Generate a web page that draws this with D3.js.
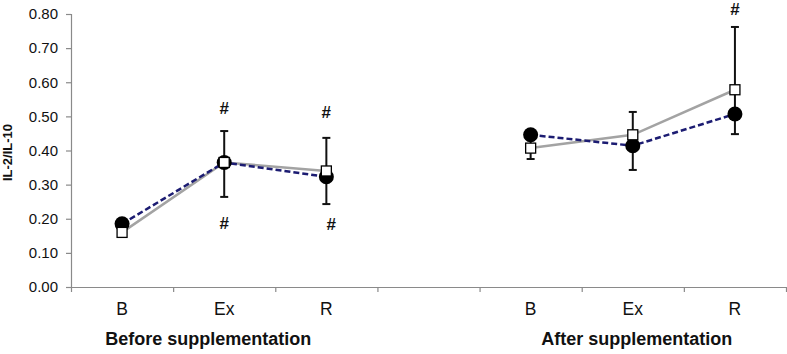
<!DOCTYPE html>
<html>
<head>
<meta charset="utf-8">
<script src="https://cdn.jsdelivr.net/npm/d3@7"></script>
<style>
  body { margin: 0; background: #fff; }
  svg { display: block; font-family: "Liberation Sans", Arial, sans-serif; }
</style>
</head>
<body>
<svg class="il2" width="787" height="354"></svg>
<script>
// categories, each sits in one slot of 7 (slot 3 is the gap)
const labels = ['B', 'Ex', 'R', 'B', 'Ex', 'R']
const slots = [0, 1, 2, 4, 5, 6]
const groups = ['Before supplementation', 'After supplementation']
const groupOf = [0, 0, 0, 1, 1, 1]

// open squares, grey solid line
const squares = [0.160, 0.365, 0.340, 0.407, 0.446, 0.578]
// filled circles, navy dashed line
const circles = [0.185, 0.365, 0.323, 0.446, 0.414, 0.507]
// error bars
const errHigh = [null, 0.457, 0.437, 0.430, 0.513, 0.762]
const errLow = [null, 0.264, 0.243, 0.375, 0.343, 0.448]

// "#" marks: category index and value
const hashCat = [1, 1, 2, 2, 5]
const hashVal = [0.525, 0.188, 0.513, 0.185, 0.815]

const yTicks = [0, 0.1, 0.2, 0.3, 0.4, 0.5, 0.6, 0.7, 0.8]

const svg = d3.select('svg.il2')

const xSlot = d3.scaleBand().domain(d3.range(7)).range([71, 786]).padding(0)
const xEdge = d3.scaleLinear().domain([0, 7]).range([71, 786])
const y = d3.scaleLinear().domain([0, 0.8]).range([287, 14])
const cx = i => xSlot(slots[i]) + xSlot.bandwidth() / 2

// y axis
const yAxis = svg.append('g')
  .attr('transform', 'translate(71,0)')
  .call(d3.axisLeft(y).tickValues(yTicks).tickFormat(d3.format('.2f')).tickSize(5).tickPadding(8))
yAxis.select('.domain').attr('stroke', '#8a8a8a').attr('stroke-width', 1.2)
yAxis.selectAll('.tick line').attr('stroke', '#8a8a8a').attr('stroke-width', 1.2)
yAxis.selectAll('.tick text').attr('font-size', 15).attr('fill', '#111')
  .attr('font-family', '"Liberation Sans", Arial, sans-serif')

// x axis - ticks at slot edges
const xAxis = svg.append('g')
  .attr('transform', 'translate(0,287)')
  .call(d3.axisBottom(xEdge).tickValues(d3.range(8)).tickFormat('').tickSize(5).tickSizeOuter(0))
xAxis.select('.domain').attr('stroke', '#8a8a8a').attr('stroke-width', 1.2)
xAxis.selectAll('.tick line').attr('stroke', '#8a8a8a').attr('stroke-width', 1.2)

// category labels
svg.append('g').selectAll('text')
  .data(labels)
  .join('text')
  .attr('x', (d, i) => cx(i))
  .attr('y', 315)
  .attr('text-anchor', 'middle')
  .attr('font-size', 17.5)
  .attr('fill', '#111')
  .text(d => d)

// group labels (the before label sits a bit left of its middle category)
const groupShift = [-16, 4]
svg.append('g').selectAll('text')
  .data(groups)
  .join('text')
  .attr('x', (d, g) => cx(groupOf.indexOf(g) + 1) + groupShift[g])
  .attr('y', 345)
  .attr('text-anchor', 'middle')
  .attr('font-size', 18)
  .attr('font-weight', 'bold')
  .attr('fill', '#111')
  .text(d => d)

// y label
svg.append('text')
  .attr('transform', `translate(12,${y(0.4) + 2}) rotate(-90)`)
  .attr('text-anchor', 'middle')
  .attr('font-size', 13)
  .attr('font-weight', 'bold')
  .attr('fill', '#111')
  .text('IL-2/IL-10')

// lines, one segment per group
const line = vals => d3.line().x(i => cx(i)).y(i => y(vals[i]))
groups.forEach((g, gi) => {
  const idx = d3.range(labels.length).filter(i => groupOf[i] === gi)
  svg.append('path')
    .attr('d', line(squares)(idx))
    .attr('fill', 'none')
    .attr('stroke', '#a3a3a3')
    .attr('stroke-width', 2.5)
  svg.append('path')
    .attr('d', line(circles)(idx))
    .attr('fill', 'none')
    .attr('stroke', '#1c1c72')
    .attr('stroke-width', 2.5)
    .attr('stroke-dasharray', '6,3')
})

// error bars
const eb = svg.append('g').attr('stroke', '#111').attr('stroke-width', 2)
d3.range(labels.length).filter(i => errHigh[i] != null).forEach(i => {
  const x = cx(i)
  eb.append('line').attr('x1', x).attr('x2', x).attr('y1', y(errHigh[i])).attr('y2', y(errLow[i]))
  eb.append('line').attr('x1', x - 4).attr('x2', x + 4).attr('y1', y(errHigh[i])).attr('y2', y(errHigh[i]))
  eb.append('line').attr('x1', x - 4).attr('x2', x + 4).attr('y1', y(errLow[i])).attr('y2', y(errLow[i]))
})

// circles
svg.append('g').selectAll('circle')
  .data(circles)
  .join('circle')
  .attr('cx', (d, i) => cx(i))
  .attr('cy', d => y(d))
  .attr('r', 7.5)
  .attr('fill', '#000')

// squares
svg.append('g').selectAll('rect')
  .data(squares)
  .join('rect')
  .attr('x', (d, i) => cx(i) - 5)
  .attr('y', d => y(d) - 5)
  .attr('width', 10)
  .attr('height', 10)
  .attr('fill', '#fff')
  .attr('stroke', '#000')
  .attr('stroke-width', 1.3)

// # marks
svg.append('g').selectAll('text')
  .data(hashVal)
  .join('text')
  .attr('x', (d, k) => cx(hashCat[k]) + (k === 3 ? 5 : 0))
  .attr('y', d => y(d))
  .attr('dy', '0.35em')
  .attr('text-anchor', 'middle')
  .attr('font-size', 17)
  .attr('font-weight', 'bold')
  .attr('fill', '#111')
  .text('#')
</script>
</body>
</html>
